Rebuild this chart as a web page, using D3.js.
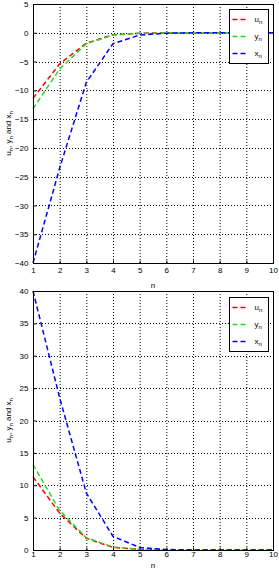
<!DOCTYPE html>
<html>
<head>
<meta charset="utf-8">
<script src="https://cdn.jsdelivr.net/npm/d3@7"></script>
<style>
  html, body { margin: 0; padding: 0; background: #fff; }
  svg { display: block; font-family: "Liberation Sans", Arial, sans-serif; }
</style>
</head>
<body>
<div id="chart"></div>
<script>
// sample index
const n = [1, 2, 3, 4, 5, 6, 7, 8, 9, 10];

// top panel (negative start)
const uTop = [-11.4, -5.4, -1.8, -0.35, -0.08, -0.02, 0, 0, 0, 0];
const yTop = [-13.2, -6.3, -1.9, -0.4, -0.1, -0.02, 0, 0, 0, 0];
const xTop = [-40, -23.5, -8.6, -1.9, -0.4, -0.07, -0.01, 0, 0, 0];

// bottom panel (positive start)
const uBot = [11.3, 5.7, 1.8, 0.4, 0.1, 0.02, 0, 0, 0, 0];
const yBot = [13.2, 6.1, 1.9, 0.45, 0.1, 0.02, 0, 0, 0, 0];
const xBot = [40, 23.5, 8.8, 2.1, 0.4, 0.07, 0.01, 0, 0, 0];

const xTicks = [1, 2, 3, 4, 5, 6, 7, 8, 9, 10];
const yTicksTop = [5, 0, -5, -10, -15, -20, -25, -30, -35, -40];
const yTicksBot = [0, 5, 10, 15, 20, 25, 30, 35, 40];

const seriesNames = ["u", "y", "x"];
const seriesColors = ["#ff0000", "#22dd22", "#0000ff"];

const W = 279, H = 570;
const svg = d3.select("#chart").append("svg").attr("width", W).attr("height", H);

function panel(cfg) {
  const x = d3.scaleLinear().domain([1, 10]).range([33, 273]);
  const y = d3.scaleLinear().domain(cfg.domain).range([cfg.bottom, cfg.top]);
  const g = svg.append("g");

  // grid
  g.append("g").selectAll("line").data(xTicks.slice(1, -1)).join("line")
    .attr("x1", d => x(d) + 0.5).attr("x2", d => x(d) + 0.5)
    .attr("y1", cfg.top).attr("y2", cfg.bottom)
    .attr("stroke", "#000").attr("stroke-width", 1).attr("stroke-dasharray", "1,2");
  g.append("g").selectAll("line").data(cfg.yTicks.filter(d => d !== cfg.domain[0] && d !== cfg.domain[1])).join("line")
    .attr("x1", 33).attr("x2", 273)
    .attr("y1", d => Math.round(y(d)) + 0.5).attr("y2", d => Math.round(y(d)) + 0.5)
    .attr("stroke", "#000").attr("stroke-width", 1).attr("stroke-dasharray", "1,2");

  // series
  const line = d3.line().x((d, i) => x(n[i])).y(d => y(d));
  cfg.series.forEach((s, k) => {
    g.append("path").datum(s)
      .attr("d", line)
      .attr("fill", "none")
      .attr("stroke", seriesColors[k])
      .attr("stroke-width", 1.5)
      .attr("stroke-dasharray", "5,3");
  });

  // box
  g.append("rect")
    .attr("x", 33.5).attr("y", cfg.top + 0.5)
    .attr("width", 240).attr("height", cfg.bottom - cfg.top)
    .attr("fill", "none").attr("stroke", "#000").attr("stroke-width", 1);

  // axes (MATLAB style, ticks inward)
  const ax = g.append("g").attr("transform", `translate(0,${cfg.bottom + 0.5})`)
    .call(d3.axisBottom(x).tickValues(xTicks).tickSize(-3).tickPadding(cfg.xPad).tickFormat(d3.format("d")));
  const ay = g.append("g").attr("transform", "translate(33.5,0)")
    .call(d3.axisLeft(y).tickValues(cfg.yTicks).tickSize(-3).tickPadding(5).tickFormat(d3.format("d")));
  [ax, ay].forEach(a => {
    a.select(".domain").remove();
    a.selectAll("text").attr("font-size", 8).attr("fill", "#000")
      .attr("font-family", "'Liberation Sans', Arial, sans-serif");
  });
  ax.selectAll("text").attr("dy", "0.6em");

  // axis labels
  g.append("text").attr("x", 153).attr("y", cfg.bottom + cfg.nOff)
    .attr("text-anchor", "middle").attr("font-size", 8).text("n");

  const yl = g.append("text")
    .attr("transform", `translate(11,${(cfg.top + cfg.bottom) / 2}) rotate(-90)`)
    .attr("text-anchor", "middle").attr("font-size", 8);
  yl.append("tspan").text("u");
  yl.append("tspan").attr("font-size", 6).attr("dy", 2).text("n");
  yl.append("tspan").attr("dy", -2).text(", y");
  yl.append("tspan").attr("font-size", 6).attr("dy", 2).text("n");
  yl.append("tspan").attr("dy", -2).text(" and x");
  yl.append("tspan").attr("font-size", 6).attr("dy", 2).text("n");

  // legend
  const lg = g.append("g").attr("transform", `translate(229.5,${cfg.legendTop + 0.5})`);
  lg.append("rect").attr("width", 39).attr("height", 54)
    .attr("fill", "#fff").attr("stroke", "#000").attr("stroke-width", 1);
  seriesNames.forEach((name, k) => {
    const yy = 10 + k * 17;
    lg.append("line").attr("x1", 3).attr("x2", 19).attr("y1", yy).attr("y2", yy)
      .attr("stroke", seriesColors[k]).attr("stroke-width", 1.5).attr("stroke-dasharray", "5,3");
    const t = lg.append("text").attr("x", 25).attr("y", yy + 2).attr("font-size", 8);
    t.append("tspan").text(name);
    t.append("tspan").attr("font-size", 6).attr("dy", 2).text("n");
  });
}

panel({ domain: [-40, 5], top: 4, bottom: 263, yTicks: yTicksTop,
        series: [uTop, yTop, xTop], legendTop: 9, xPad: 5, nOff: 25 });
panel({ domain: [0, 40], top: 291, bottom: 550, yTicks: yTicksBot,
        series: [uBot, yBot, xBot], legendTop: 297, xPad: 2, nOff: 18 });
</script>
</body>
</html>
